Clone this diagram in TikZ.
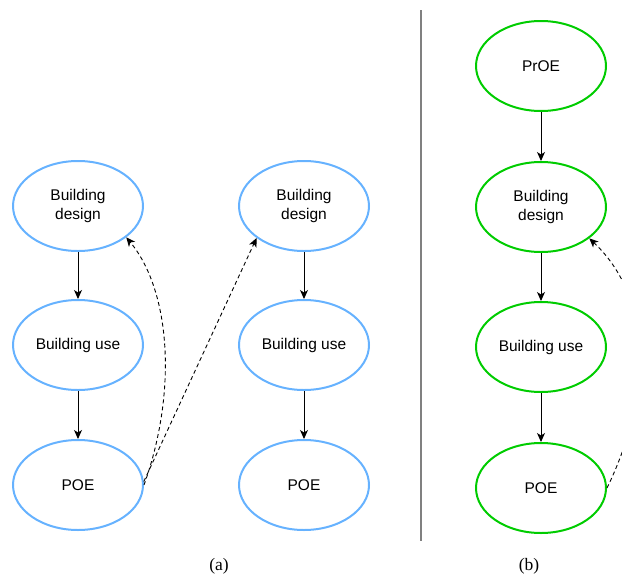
\documentclass[tikz,border=0pt]{standalone}
\usepackage{fontspec}
\setmainfont{Liberation Sans}
\newfontfamily\capfont{Liberation Serif}
\usetikzlibrary{arrows.meta,shapes.geometric}
\definecolor{eblue}{RGB}{102,178,255}
\definecolor{egreen}{RGB}{0,204,0}
\definecolor{divgray}{RGB}{128,128,128}
\tikzset{
  bluenode/.style={ellipse,draw=eblue,line width=2pt,minimum width=130pt,minimum height=90pt,inner sep=0pt,align=center,font=\fontsize{15.5pt}{19pt}\selectfont},
  greennode/.style={bluenode,draw=egreen},
  flow/.style={-{Stealth[length=9pt,width=8pt,inset=2.5pt]},line width=0.9pt},
  back/.style={flow,dashed,dash pattern=on 4pt off 3pt}
}
\begin{document}
\begin{tikzpicture}[x=1pt,y=-1pt]
\useasboundingbox (0,0) rectangle (622,579);
\clip (0,0) rectangle (622,579);
\node[bluenode] (bd1) at (78,206) {Building\\design};
\node[bluenode] (bu1) at (78,345) {Building use};
\node[bluenode] (poe1) at (78,485) {POE};
\node[bluenode] (bd2) at (304,206) {Building\\design};
\node[bluenode] (bu2) at (304,345) {Building use};
\node[bluenode] (poe2) at (304,485) {POE};
\node[greennode] (proe) at (541,66) {PrOE};
\node[greennode] (bdb) at (541,207) {Building\\design};
\node[greennode] (bub) at (541,347) {Building use};
\node[greennode] (poeb) at (541,488) {POE};
\draw[flow] (bd1) -- (bu1);
\draw[flow] (bu1) -- (poe1);
\draw[flow] (bd2) -- (bu2);
\draw[flow] (bu2) -- (poe2);
\draw[flow] (proe) -- (bdb);
\draw[flow] (bdb) -- (bub);
\draw[flow] (bub) -- (poeb);
\draw[back] (poe1.east) .. controls (178,390) and (170,290) .. (bd1.-33.4);
\draw[back] (poe1.3) -- (bd2.-146.6);
\draw[back] (poeb.east) .. controls (650,400) and (655,300) .. (bdb.-33);
\coordinate (lt) at (421,10);
\coordinate (lb) at (421,541);
\draw[divgray,line width=2.5pt] (lt) -- (lb);
\node[font=\capfont\fontsize{17.5pt}{20pt}\selectfont] (capa) at (219,566) {(a)};
\node[font=\capfont\fontsize{17.5pt}{20pt}\selectfont] (capb) at (529,566) {(b)};
\end{tikzpicture}
\end{document}
